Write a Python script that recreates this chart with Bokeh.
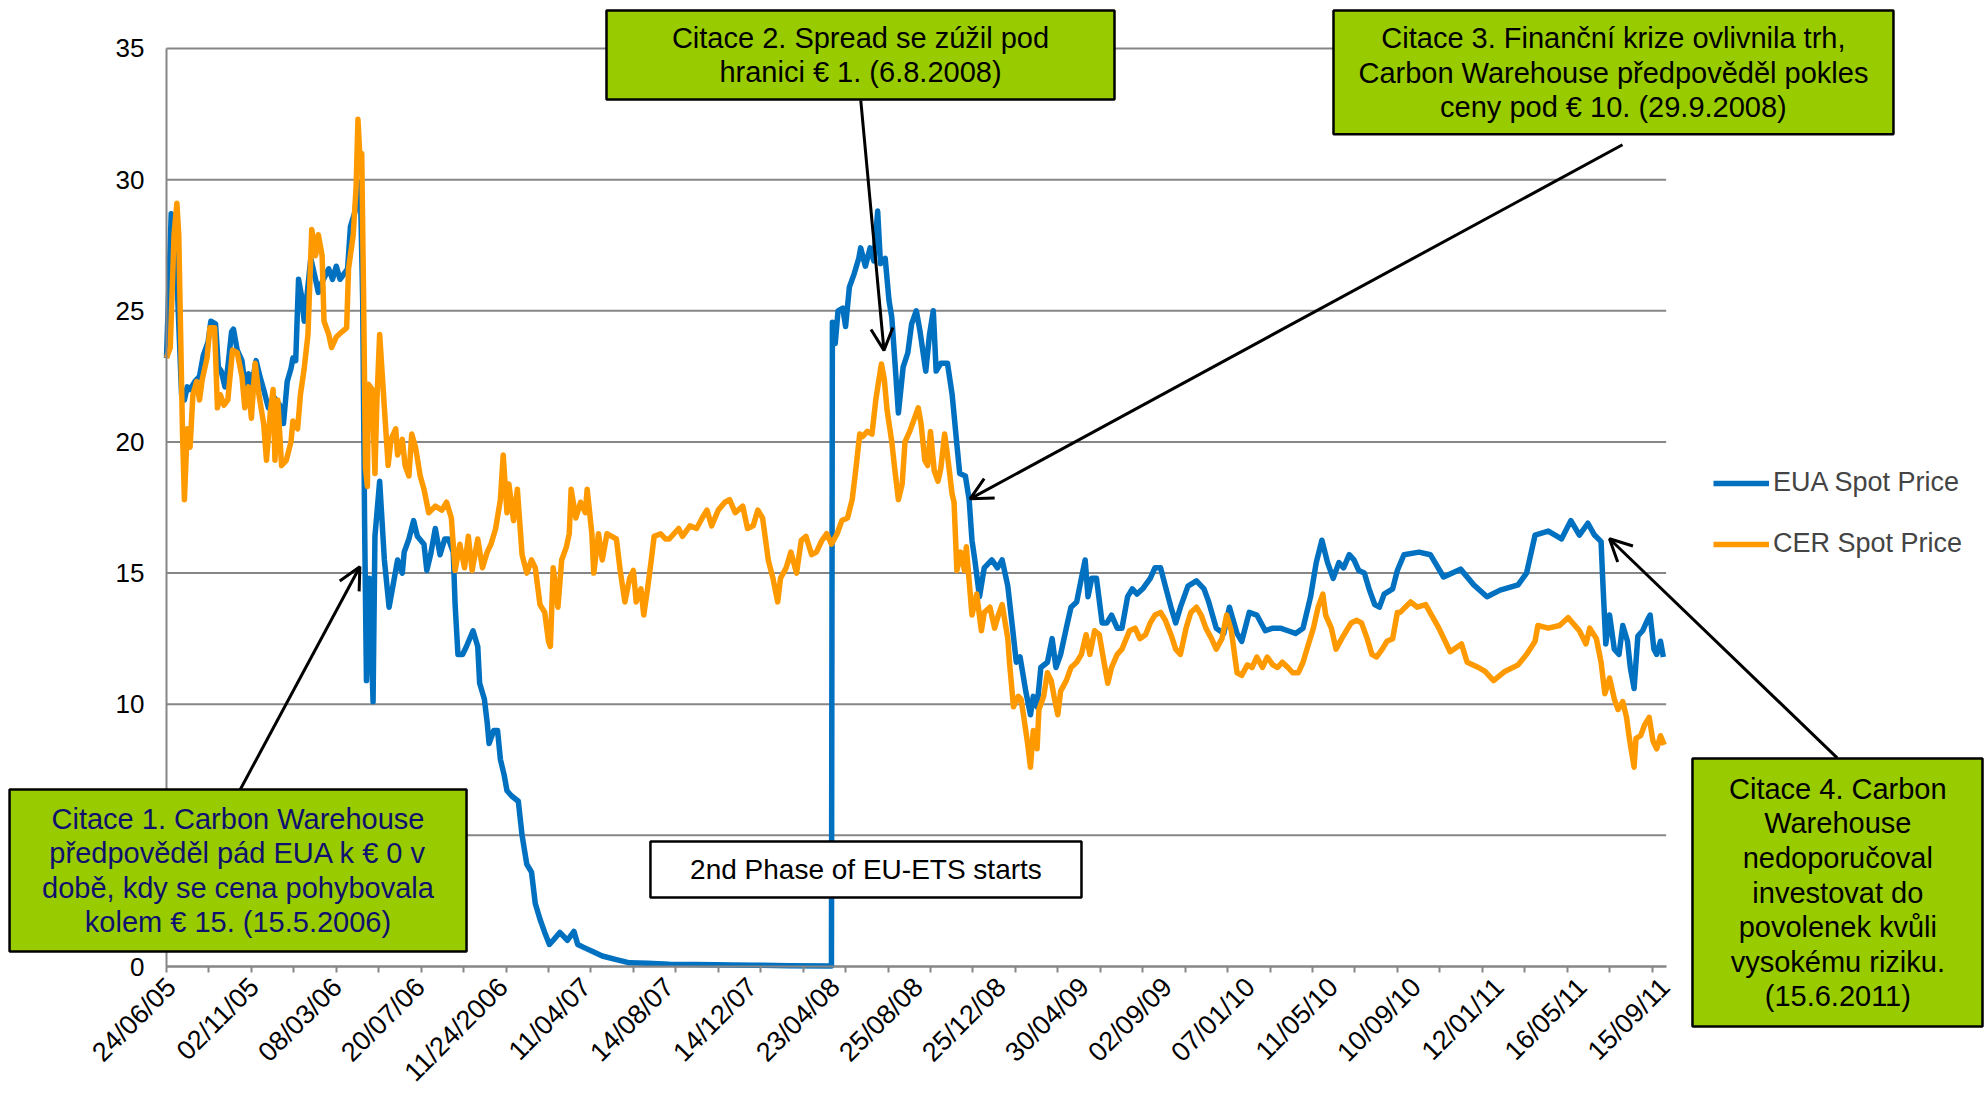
import math
from bokeh.plotting import figure
from bokeh.models import (Range1d, FixedTicker, BoxAnnotation, Label, Arrow,
                          OpenHead, Legend, LegendItem, LinearAxis)
from bokeh.embed import file_html
from bokeh.resources import INLINE

FONT = "Liberation Sans"

# ---- category axis (trading-day index) ----
x_extent = (0, 1590)
tick_days = list(range(0, 1576, 45))
label_days = [5 + 88 * j for j in range(19)]
date_labels = ["24/06/05", "02/11/05", "08/03/06", "20/07/06", "11/24/2006",
               "11/04/07", "14/08/07", "14/12/07", "23/04/08", "25/08/08",
               "25/12/08", "30/04/09", "02/09/09", "07/01/10", "11/05/10",
               "10/09/10", "12/01/11", "16/05/11", "15/09/11"]
y_ticks = [0, 5, 10, 15, 20, 25, 30, 35]

# ---- EUA spot price ----
eua_day = [0, 5, 9, 12, 16, 19, 22, 25, 30, 35, 39, 44, 47, 52, 55, 58, 62, 65, 69, 71,
           75, 80, 83, 87, 90, 95, 99, 103, 108, 114, 120, 124, 128, 132, 134, 137, 140,
           143, 146, 149, 153, 158, 161, 165, 172, 176, 180, 184, 188, 192, 195, 200, 202,
           204, 206, 208, 210, 212, 215, 219, 221, 226, 231, 236, 240, 245, 250, 252, 257,
           262, 266, 273, 276, 280, 285, 290, 295, 299, 304, 306, 309, 314, 318, 325, 330,
           332, 337, 340, 342, 347, 351, 354, 358, 361, 366, 373, 377, 382, 387, 391, 396,
           401, 406, 410, 417, 425, 432, 436, 444, 453, 462, 477, 491, 510, 533, 562, 600,
           622, 660, 705, 706, 709, 712, 717, 720, 724, 729, 734, 736, 741, 746, 750, 754,
           757, 762, 766, 769, 772, 776, 781, 786, 790, 795, 799, 805, 809, 813, 816, 821,
           828, 833, 838, 841, 847, 851, 854, 857, 862, 867, 875, 881, 886, 892, 897, 901,
           905, 911, 916, 919, 923, 927, 934, 939, 943, 948, 954, 959, 965, 970, 974, 977,
           981, 986, 992, 997, 1002, 1008, 1013, 1019, 1024, 1029, 1035, 1043, 1048, 1054,
           1059, 1065, 1070, 1075, 1083, 1092, 1100, 1105, 1113, 1121, 1127, 1135, 1140,
           1148, 1156, 1165, 1173, 1181, 1189, 1197, 1205, 1213, 1219, 1225, 1231, 1237,
           1243, 1248, 1254, 1259, 1264, 1270, 1275, 1281, 1286, 1291, 1300, 1305, 1312,
           1328, 1340, 1354, 1372, 1386, 1400, 1414, 1433, 1442, 1451, 1465, 1479, 1489,
           1498, 1507, 1514, 1521, 1523, 1526, 1530, 1535, 1540, 1544, 1549, 1552, 1556,
           1560, 1565, 1570, 1573, 1577, 1580, 1584, 1587]
eua_price = [23.2, 28.7, 28.5, 25.4, 21.8, 21.6, 22.1, 22.0, 22.3, 22.5, 23.3, 23.8, 24.6,
             24.5, 22.85, 22.7, 22.1, 22.85, 24.2, 24.3, 23.5, 23.1, 22.2, 22.6, 22.1, 23.1,
             22.5, 22.0, 21.3, 21.7, 21.4, 20.7, 22.3, 22.8, 23.2, 23.1, 26.2, 25.6, 24.6,
             25.6, 27.0, 26.2, 25.7, 26.1, 26.6, 26.2, 26.7, 26.2, 26.4, 26.6, 28.2, 28.8,
             29.7, 29.9, 28.9, 25.4, 17.0, 10.9, 14.8, 10.1, 16.4, 18.5, 15.5, 13.7, 14.5,
             15.5, 15.0, 15.8, 16.3, 17.0, 16.4, 16.1, 15.1, 15.7, 16.7, 15.7, 16.3, 16.3,
             15.8, 13.8, 11.9, 11.9, 12.2, 12.8, 12.2, 10.8, 10.2, 9.3, 8.5, 9.0, 9.0, 7.9,
             7.3, 6.7, 6.5, 6.3, 5.0, 3.9, 3.6, 2.4, 1.8, 1.3, 0.84, 1.0, 1.3, 1.0, 1.34,
             0.84, 0.7, 0.55, 0.4, 0.26, 0.14, 0.12, 0.09, 0.08, 0.06, 0.05, 0.03, 0.02,
             24.56, 23.75, 25.0, 25.1, 24.4, 25.9, 26.4, 27.0, 27.4, 26.7, 27.4, 26.9, 28.8,
             26.8, 27.0, 25.4, 24.75, 23.2, 21.1, 22.85, 23.4, 24.5, 25.0, 24.2, 22.7, 24.1,
             25.0, 22.7, 23.0, 23.0, 21.8, 19.9, 18.8, 18.7, 17.8, 16.25, 15.5, 14.1, 15.2,
             15.5, 15.2, 15.5, 14.5, 12.9, 11.6, 11.8, 10.5, 9.6, 10.3, 9.9, 11.4, 11.6,
             12.5, 11.4, 11.9, 12.9, 13.7, 13.9, 14.8, 15.5, 14.1, 14.8, 14.8, 13.1, 13.1,
             13.4, 12.9, 12.9, 14.1, 14.4, 14.2, 14.4, 14.8, 15.2, 15.2, 14.5, 13.7, 13.1,
             13.7, 14.5, 14.7, 14.4, 13.9, 12.9, 12.7, 13.7, 12.7, 12.4, 13.5, 13.4, 12.8,
             12.9, 12.9, 12.8, 12.7, 12.9, 14.1, 15.4, 16.25, 15.4, 14.8, 15.4, 15.2, 15.7,
             15.5, 15.1, 15.0, 14.4, 13.8, 13.7, 14.2, 14.4, 15.1, 15.7, 15.8, 15.7, 14.85,
             15.15, 14.55, 14.1, 14.35, 14.55, 15.0, 16.45, 16.6, 16.3, 17.0, 16.45, 16.9,
             16.45, 16.2, 14.55, 12.3, 13.4, 12.1, 11.9, 13.0, 12.4, 11.4, 10.6, 12.6, 12.8,
             13.2, 13.4, 12.1, 11.9, 12.4, 11.8]

# ---- CER spot price ----
cer_day = [0, 4, 8, 11, 13, 15, 17, 19, 22, 25, 28, 32, 35, 38, 43, 46, 51, 54, 57, 61, 65,
           70, 75, 80, 83, 87, 90, 94, 98, 103, 106, 110, 113, 115, 118, 122, 127, 132, 134,
           139, 142, 146, 150, 154, 158, 161, 165, 167, 172, 175, 180, 186, 191, 193, 198,
           201, 203, 205, 207, 209, 211, 213, 214, 218, 221, 223, 226, 231, 235, 238, 243,
           245, 250, 253, 257, 260, 264, 269, 273, 278, 285, 292, 297, 302, 306, 311, 316,
           320, 324, 330, 335, 340, 344, 349, 354, 357, 361, 363, 368, 372, 377, 382, 387,
           391, 396, 401, 405, 407, 410, 415, 419, 424, 427, 429, 434, 439, 444, 446, 451,
           453, 458, 462, 467, 472, 477, 481, 486, 491, 495, 498, 503, 506, 510, 514, 517,
           524, 529, 533, 538, 543, 547, 555, 562, 568, 573, 578, 585, 592, 597, 603, 611,
           616, 622, 627, 632, 638, 643, 648, 651, 657, 662, 668, 673, 678, 684, 689, 695,
           700, 705, 711, 716, 722, 727, 731, 735, 738, 743, 748, 752, 755, 758, 761, 764,
           769, 772, 776, 780, 783, 788, 793, 797, 800, 804, 807, 810, 814, 818, 821, 825,
           828, 833, 835, 838, 842, 846, 848, 854, 859, 864, 867, 873, 878, 882, 886, 892,
           894, 898, 903, 906, 909, 913, 916, 919, 923, 925, 930, 934, 938, 941, 945, 948,
           954, 959, 965, 970, 975, 979, 984, 989, 994, 998, 1002, 1008, 1013, 1021, 1027,
           1032, 1038, 1043, 1048, 1054, 1059, 1065, 1070, 1075, 1081, 1086, 1092, 1097,
           1102, 1108, 1113, 1119, 1124, 1129, 1135, 1140, 1146, 1151, 1156, 1162, 1167,
           1173, 1178, 1183, 1189, 1194, 1200, 1205, 1210, 1216, 1221, 1226, 1229, 1235,
           1240, 1246, 1251, 1256, 1262, 1267, 1273, 1278, 1283, 1289, 1294, 1300, 1305,
           1308, 1319, 1326, 1335, 1349, 1361, 1373, 1379, 1391, 1398, 1407, 1419, 1433,
           1442, 1451, 1454, 1465, 1477, 1486, 1498, 1505, 1509, 1516, 1521, 1525, 1530,
           1535, 1539, 1544, 1548, 1551, 1556, 1558, 1563, 1567, 1572, 1576, 1580, 1584,
           1588]
cer_price = [23.2, 23.6, 27.9, 29.1, 27.9, 24.1, 20.3, 17.8, 20.5, 19.8, 21.8, 22.3, 21.6,
             22.4, 23.2, 24.35, 24.35, 21.3, 21.8, 21.4, 21.6, 23.5, 23.4, 22.5, 21.3, 22.1,
             20.9, 23.0, 21.8, 20.7, 19.3, 21.1, 22.0, 19.3, 21.6, 19.1, 19.3, 20.0, 20.8,
             20.5, 21.8, 22.8, 24.1, 28.1, 27.1, 27.9, 27.1, 24.6, 24.1, 23.6, 24.0, 24.2,
             24.35, 26.6, 27.9, 29.7, 32.3, 30.9, 31.0, 25.4, 19.0, 18.3, 22.2, 22.0, 18.8,
             21.5, 24.1, 21.3, 19.1, 20.1, 20.5, 19.5, 20.1, 19.1, 18.7, 20.3, 19.8, 18.7,
             18.2, 17.3, 17.55, 17.4, 17.7, 17.1, 15.1, 16.1, 15.2, 16.4, 15.1, 16.3, 15.2,
             15.8, 16.1, 16.7, 17.8, 19.5, 17.3, 18.4, 17.0, 18.2, 15.7, 15.0, 15.5, 15.2,
             13.8, 13.5, 12.4, 12.2, 15.2, 13.7, 15.5, 16.0, 16.5, 18.2, 17.1, 17.7, 17.3,
             18.2, 16.5, 15.0, 16.5, 15.5, 16.5, 16.4, 16.3, 15.1, 13.9, 14.8, 15.1, 13.9,
             14.4, 13.4, 14.4, 15.5, 16.4, 16.5, 16.3, 16.3, 16.5, 16.7, 16.4, 16.8, 16.7,
             17.1, 17.4, 16.8, 17.4, 17.7, 17.8, 17.3, 17.55, 16.7, 16.8, 17.4, 17.1, 15.5,
             14.8, 13.9, 14.8, 15.2, 15.8, 15.0, 16.25, 16.4, 15.7, 15.8, 16.25, 16.5, 16.1,
             16.5, 17.0, 17.1, 17.8, 19.0, 20.3, 20.2, 20.4, 20.3, 21.6, 22.3, 22.97, 22.4,
             21.2, 20.0, 19.0, 17.8, 18.4, 20.0, 20.4, 20.9, 21.3, 20.7, 19.3, 19.1, 20.4,
             18.9, 18.5, 19.0, 20.3, 19.5, 18.0, 17.7, 15.1, 15.8, 15.1, 16.0, 13.4, 14.2,
             12.8, 13.5, 13.7, 12.9, 13.4, 13.8, 12.5, 11.5, 9.9, 10.3, 10.2, 9.5, 8.5, 7.6,
             9.0, 8.3, 9.8, 10.3, 11.2, 10.9, 10.3, 9.6, 10.5, 10.9, 11.4, 11.6, 11.9, 12.65,
             11.9, 12.8, 12.65, 11.6, 10.8, 11.4, 11.9, 12.1, 12.8, 12.9, 12.5, 12.65, 13.1,
             13.4, 13.5, 13.2, 12.65, 12.1, 11.9, 12.9, 13.5, 13.7, 13.4, 12.9, 12.5, 12.1,
             12.5, 13.4, 12.8, 11.2, 11.1, 11.5, 11.4, 11.8, 11.4, 11.8, 11.5, 11.4, 11.6,
             11.4, 11.2, 11.2, 11.6, 12.2, 12.9, 13.7, 14.2, 13.4, 12.9, 12.1, 12.5, 12.8,
             13.1, 13.2, 13.1, 12.5, 11.9, 11.8, 12.1, 12.4, 12.5, 13.5, 13.5, 13.9, 13.7,
             13.8, 12.9, 12.0, 12.3, 11.6, 11.4, 11.25, 10.9, 11.25, 11.5, 11.9, 12.4, 13.0,
             12.9, 13.0, 13.3, 12.8, 12.3, 12.9, 12.5, 11.6, 10.4, 11.0, 10.2, 9.8, 10.1, 9.5,
             8.7, 7.6, 8.7, 8.8, 9.2, 9.5, 8.6, 8.3, 8.8, 8.45]

series_names = ["EUA Spot Price", "CER Spot Price"]
series_colors = ["#0070C0", "#FF9900"]

# ---- annotation texts ----
note1 = "Citace 1. Carbon Warehouse\npředpověděl pád EUA k € 0 v\ndobě, kdy se cena pohybovala\nkolem € 15. (15.5.2006)"
note2 = "Citace 2. Spread se zúžil pod\nhranici € 1. (6.8.2008)"
note3 = "Citace 3. Finanční krize ovlivnila trh,\nCarbon Warehouse předpověděl pokles\nceny pod € 10. (29.9.2008)"
note4 = "Citace 4. Carbon\nWarehouse\nnedoporučoval\ninvestovat do\npovolenek kvůli\nvysokému riziku.\n(15.6.2011)"
phase_note = "2nd Phase of EU-ETS starts"

GRID = "#868686"

# The frame covers the whole canvas so that call-out boxes may sit outside the
# data area; the axes are pinned at x=0 / y=0 with fixed_location.
p = figure(width=1987, height=1094, output_backend="svg", toolbar_location=None,
           x_range=Range1d(-176.0, 1930.7), y_range=Range1d(-4.880, 36.830),
           min_border=0, min_border_left=0, min_border_right=0, min_border_top=0,
           min_border_bottom=0, outline_line_color=None, x_axis_type=None,
           y_axis_type=None, background_fill_color="white", border_fill_color="white")
p.xgrid.visible = False
p.ygrid.visible = False

# horizontal gridlines at the y ticks, limited to the data area
p.segment(x0=[x_extent[0]] * len(y_ticks), x1=[x_extent[1]] * len(y_ticks),
          y0=y_ticks, y1=y_ticks, line_color=GRID, line_width=2)

r_eua = p.line(eua_day, eua_price, line_color=series_colors[0], line_width=5.5,
               line_join="round")
r_cer = p.line(cer_day, cer_price, line_color=series_colors[1], line_width=5.5,
               line_join="round")

xa = LinearAxis(fixed_location=0, bounds=x_extent)
xa.ticker = FixedTicker(ticks=label_days, minor_ticks=tick_days)
xa.major_label_overrides = {float(d): s for d, s in zip(label_days, date_labels)}
xa.major_label_orientation = math.pi / 4
xa.major_tick_line_color = None
xa.major_tick_out = 6
xa.major_tick_in = 0
xa.minor_tick_line_color = GRID
xa.minor_tick_line_width = 2
xa.minor_tick_out = 6
xa.minor_tick_in = 0
xa.axis_line_color = GRID
xa.axis_line_width = 2
xa.major_label_text_font = FONT
xa.major_label_text_font_size = "27px"
xa.major_label_text_color = "black"
xa.major_label_standoff = 10
p.add_layout(xa, "below")

ya = LinearAxis(fixed_location=0, bounds=(0, 35))
ya.ticker = FixedTicker(ticks=y_ticks)
ya.major_tick_line_color = None
ya.major_tick_out = 0
ya.major_tick_in = 0
ya.minor_tick_line_color = None
ya.axis_line_color = GRID
ya.axis_line_width = 2
ya.major_label_text_font = FONT
ya.major_label_text_font_size = "26px"
ya.major_label_text_color = "black"
ya.major_label_standoff = 22
p.add_layout(ya, "left")

legend = Legend(items=[LegendItem(label=series_names[0], renderers=[r_eua]),
                       LegendItem(label=series_names[1], renderers=[r_cer])],
                location=(1713, 535), orientation="vertical",
                label_text_font=FONT, label_text_font_size="27px",
                glyph_width=56, glyph_height=30, spacing=30, label_standoff=4,
                padding=0, margin=0, border_line_color=None,
                background_fill_alpha=0)
p.add_layout(legend, "center")

# ---- arrows ----
arrow_specs = [(78.1, 6.741, 205.0, 15.24),
               (736.1, 33.02, 760.7, 23.49),
               (1543.7, 31.33, 852.0, 17.83),
               (1771.3, 7.957, 1529.9, 16.31)]
for xs, ys, xe, ye in arrow_specs:
    p.add_layout(Arrow(end=OpenHead(size=22, line_width=3, line_color="black"),
                       x_start=xs, y_start=ys, x_end=xe, y_end=ye,
                       line_width=3, line_color="black"))

GREEN = "#99CC00"
boxes = [(-166.4, 318.1, 6.748, 0.572, GREEN),
         (466.5, 1005.1, 36.448, 33.055, GREEN),
         (1237.3, 1831.0, 36.448, 31.732, GREEN),
         (1617.9, 1925.4, 7.930, -2.288, GREEN),
         (513.1, 970.1, 4.766, 2.631, "white")]
for l, r, t, b, c in boxes:
    p.add_layout(BoxAnnotation(left=l, right=r, top=t, bottom=b, fill_color=c,
                               fill_alpha=1, line_color="black", line_width=2.5,
                               line_alpha=1))

texts = [(75.8, 3.66, note1, "#10106e", "29px"),
         (735.8, 34.75, note2, "black", "29px"),
         (1534.1, 34.08, note3, "black", "29px"),
         (1772.0, 2.82, note4, "black", "29px"),
         (741.6, 3.70, phase_note, "black", "28px")]
for x, y, t, col, fs in texts:
    p.add_layout(Label(x=x, y=y, text=t, text_align="center", text_baseline="middle",
                       text_font=FONT, text_font_size=fs, text_color=col,
                       text_line_height=1.08))

open("out.html", "w").write(file_html(p, INLINE))
